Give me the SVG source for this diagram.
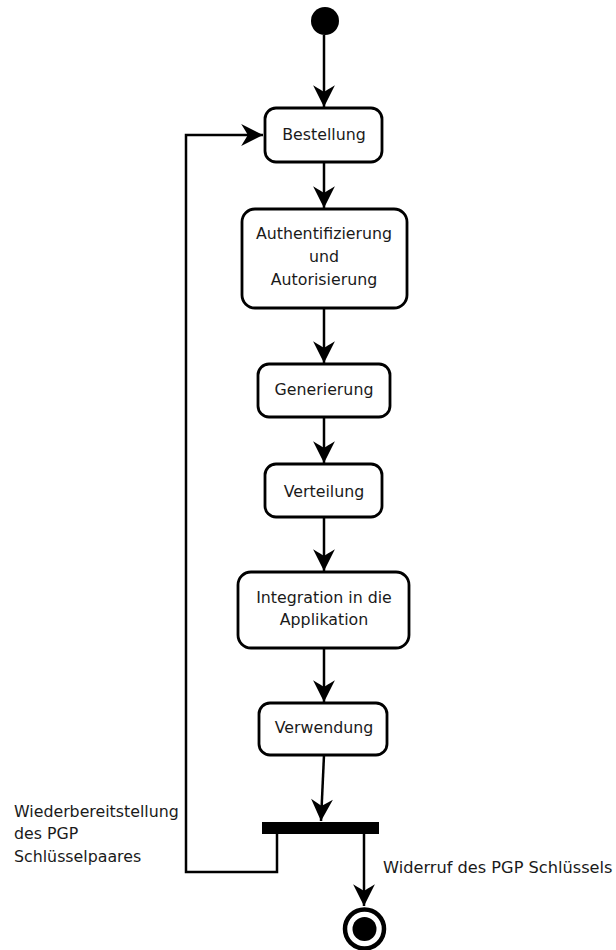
<svg xmlns="http://www.w3.org/2000/svg" width="616" height="950" viewBox="0 0 616 950">
  <style>
    .box { fill: #ffffff; stroke: #000000; stroke-width: 2.8; }
    .edge { fill: none; stroke: #000000; stroke-width: 2.5; }
    .label { font-family: "DejaVu Sans", sans-serif; font-size: 15.8px; fill: #1a1a1a; }
    .mid { text-anchor: middle; }
    .wide { font-size: 16.2px; }
  </style>
  <defs>
    <marker id="arrow" markerUnits="userSpaceOnUse" markerWidth="24" markerHeight="24" viewBox="-21 -11 22 22" refX="0" refY="0" orient="auto">
      <path d="M0,0 L-20,-10 Q-15,-2 -14,0 Q-15,2 -20,10 Z" fill="#000000"/>
    </marker>
  </defs>

  <rect width="616" height="950" fill="#ffffff"/>

  <!-- connectors -->
  <g id="connectors">
    <path class="edge" d="M324,35 L324,107" marker-end="url(#arrow)"/>
    <path class="edge" d="M324,162 L324,208" marker-end="url(#arrow)"/>
    <path class="edge" d="M324,308 L324,363" marker-end="url(#arrow)"/>
    <path class="edge" d="M324,417 L324,463" marker-end="url(#arrow)"/>
    <path class="edge" d="M324,517 L324,571" marker-end="url(#arrow)"/>
    <path class="edge" d="M324,648 L324,702" marker-end="url(#arrow)"/>
    <path class="edge" d="M324,755 L321,821" marker-end="url(#arrow)"/>
    <path class="edge" d="M277,834 L277,872 L186,872 L186,135 L263,135" marker-end="url(#arrow)"/>
    <path class="edge" d="M364,834 L364,906" marker-end="url(#arrow)"/>
  </g>

  <!-- initial state -->
  <g id="start">
    <circle cx="325" cy="21" r="14" fill="#000000"/>
  </g>

  <g id="bestellung">
    <rect class="box" x="265" y="108" width="117" height="54" rx="11"/>
    <text class="label mid" x="324" y="140">Bestellung</text>
  </g>

  <g id="authentifizierung">
    <rect class="box" x="242" y="209" width="165" height="99" rx="13"/>
    <text class="label mid" x="324" y="239">Authentifizierung</text>
    <text class="label mid" x="324" y="262">und</text>
    <text class="label mid" x="324" y="285">Autorisierung</text>
  </g>

  <g id="generierung">
    <rect class="box" x="258" y="364" width="132" height="53" rx="11"/>
    <text class="label mid" x="324" y="395">Generierung</text>
  </g>

  <g id="verteilung">
    <rect class="box" x="265" y="464" width="117" height="53" rx="11"/>
    <text class="label mid" x="324" y="497">Verteilung</text>
  </g>

  <g id="integration">
    <rect class="box" x="238" y="572" width="171" height="76" rx="13"/>
    <text class="label mid" x="324" y="603">Integration in die</text>
    <text class="label mid" x="324" y="625">Applikation</text>
  </g>

  <g id="verwendung">
    <rect class="box" x="259" y="703" width="128" height="52" rx="11"/>
    <text class="label mid" x="324" y="733">Verwendung</text>
  </g>

  <!-- fork bar -->
  <g id="fork">
    <rect x="262" y="822" width="117" height="12" fill="#000000"/>
  </g>

  <!-- final state -->
  <g id="end">
    <circle cx="364.5" cy="929" r="19.5" fill="#ffffff" stroke="#000000" stroke-width="4.5"/>
    <circle cx="364.5" cy="929" r="12" fill="#000000"/>
  </g>

  <g id="edge-labels">
    <text class="label" x="14" y="817">Wiederbereitstellung</text>
    <text class="label" x="14" y="839">des PGP</text>
    <text class="label" x="14" y="862">Schlüsselpaares</text>
    <text class="label wide" x="383" y="873">Widerruf des PGP Schlüssels</text>
  </g>
</svg>
